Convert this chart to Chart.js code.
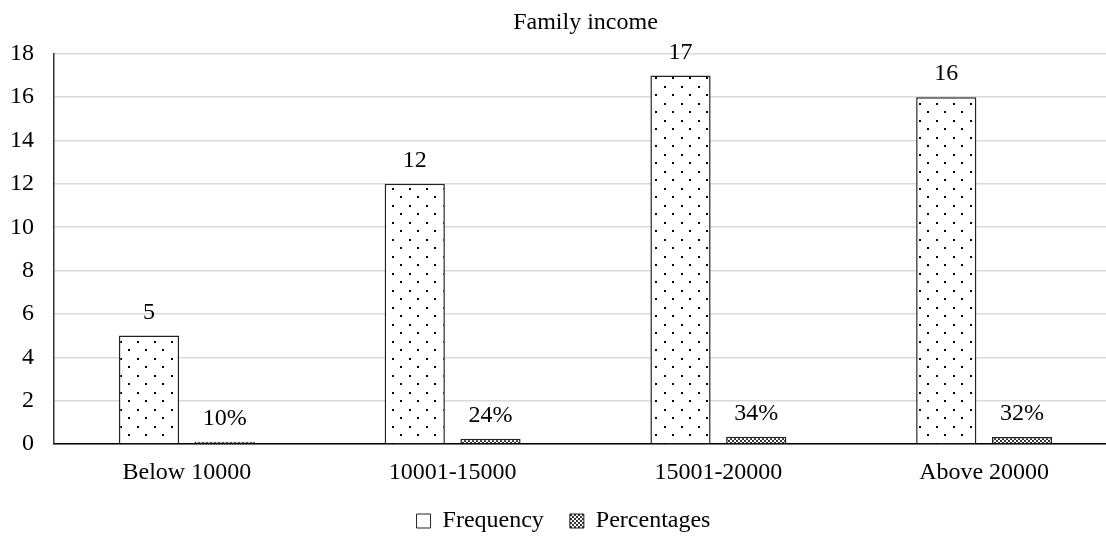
<!DOCTYPE html>
<html>
<head>
<meta charset="utf-8">
<script src="https://cdn.jsdelivr.net/npm/chart.js@4/dist/chart.umd.min.js"></script>
<style>
  body { margin: 0; background: #fff; }
  .frame { width: 1106px; height: 538px; overflow: hidden; }
</style>
</head>
<body>
<div class="frame">
  <canvas class="income-chart" width="1130" height="538"></canvas>
</div>
<script>
const categories = ["Below 10000", "10001-15000", "15001-20000", "Above 20000"];
const frequency = [5, 12, 17, 16];
const percentages = [0.1, 0.24, 0.34, 0.32];
const yMin = 0;
const yMax = 18;
const yStep = 2;

const fontFamily = "'Liberation Serif', 'Times New Roman', serif";
const fontSize = 24;

// white tile with staggered black dots
const makeDotPattern = () => {
  const tile = document.createElement("canvas");
  tile.width = 17;
  tile.height = 17;
  const c = tile.getContext("2d");
  c.fillStyle = "#fff";
  c.fillRect(0, 0, 17, 17);
  c.fillStyle = "#000";
  c.fillRect(1, 1, 2, 2);
  c.fillRect(9, 9, 2, 2);
  return c.createPattern(tile, "repeat");
};

// fine dark checker
const makeCheckerPattern = () => {
  const tile = document.createElement("canvas");
  tile.width = 4;
  tile.height = 4;
  const c = tile.getContext("2d");
  c.fillStyle = "#fff";
  c.fillRect(0, 0, 4, 4);
  c.fillStyle = "#333";
  c.fillRect(0, 0, 2, 2);
  c.fillRect(2, 2, 2, 2);
  return c.createPattern(tile, "repeat");
};

const dots = makeDotPattern();
const checker = makeCheckerPattern();

const valueLabels = {
  id: "valueLabels",
  afterDatasetsDraw(chart) {
    const ctx = chart.ctx;
    ctx.save();
    ctx.font = `${fontSize}px ${fontFamily}`;
    ctx.fillStyle = "#000";
    ctx.textAlign = "center";
    ctx.textBaseline = "middle";
    chart.data.datasets.forEach((dataset, i) => {
      const meta = chart.getDatasetMeta(i);
      meta.data.forEach((bar, j) => {
        const v = dataset.data[j];
        const text = dataset.isPercent ? `${Math.round(v * 100)}%` : `${v}`;
        ctx.fillText(text, bar.x, bar.y - 23);
      });
    });
    ctx.restore();
  },
};

new Chart(document.querySelector(".income-chart"), {
  type: "bar",
  data: {
    labels: categories,
    datasets: [
      {
        label: "Frequency",
        data: frequency,
        backgroundColor: dots,
        borderColor: "#222",
        borderWidth: 1.5,
        categoryPercentage: 0.57,
        barPercentage: 0.795,
      },
      {
        label: "Percentages",
        data: percentages,
        isPercent: true,
        backgroundColor: checker,
        borderColor: "#222",
        borderWidth: 1.5,
        categoryPercentage: 0.57,
        barPercentage: 0.795,
      },
    ],
  },
  options: {
    responsive: false,
    animation: false,
    layout: {
      padding: { left: 10, right: 13, top: 0, bottom: 0 },
    },
    plugins: {
      title: {
        display: true,
        text: "Family income",
        fullSize: false,
        color: "#000",
        font: { family: fontFamily, size: fontSize, weight: "normal" },
        padding: { top: 8, bottom: 17 },
      },
      legend: {
        position: "bottom",
        maxHeight: 55,
        labels: {
          color: "#000",
          font: { family: fontFamily, size: fontSize },
          boxWidth: 14,
          boxHeight: 14,
          padding: 26,
          generateLabels: (chart) =>
            chart.data.datasets.map((ds, i) => ({
              text: ds.label,
              fillStyle: ds.isPercent ? checker : "#fff",
              strokeStyle: "#222",
              lineWidth: 1,
              datasetIndex: i,
            })),
        },
      },
      tooltip: { enabled: false },
    },
    scales: {
      x: {
        afterFit: (scale) => {
          scale.height = 39;
        },
        grid: { display: false, drawTicks: false },
        border: { color: "#000", width: 1.5 },
        ticks: {
          color: "#000",
          font: { family: fontFamily, size: fontSize },
          padding: 14,
        },
      },
      y: {
        min: yMin,
        max: yMax,
        afterFit: (scale) => {
          scale.width = 44;
        },
        grid: { color: "#d9d9d9", lineWidth: 1.5, drawTicks: false },
        border: { color: "#333", width: 1.5 },
        ticks: {
          stepSize: yStep,
          color: "#000",
          font: { family: fontFamily, size: fontSize },
          padding: 20,
        },
      },
    },
  },
  plugins: [valueLabels],
});
</script>
</body>
</html>
